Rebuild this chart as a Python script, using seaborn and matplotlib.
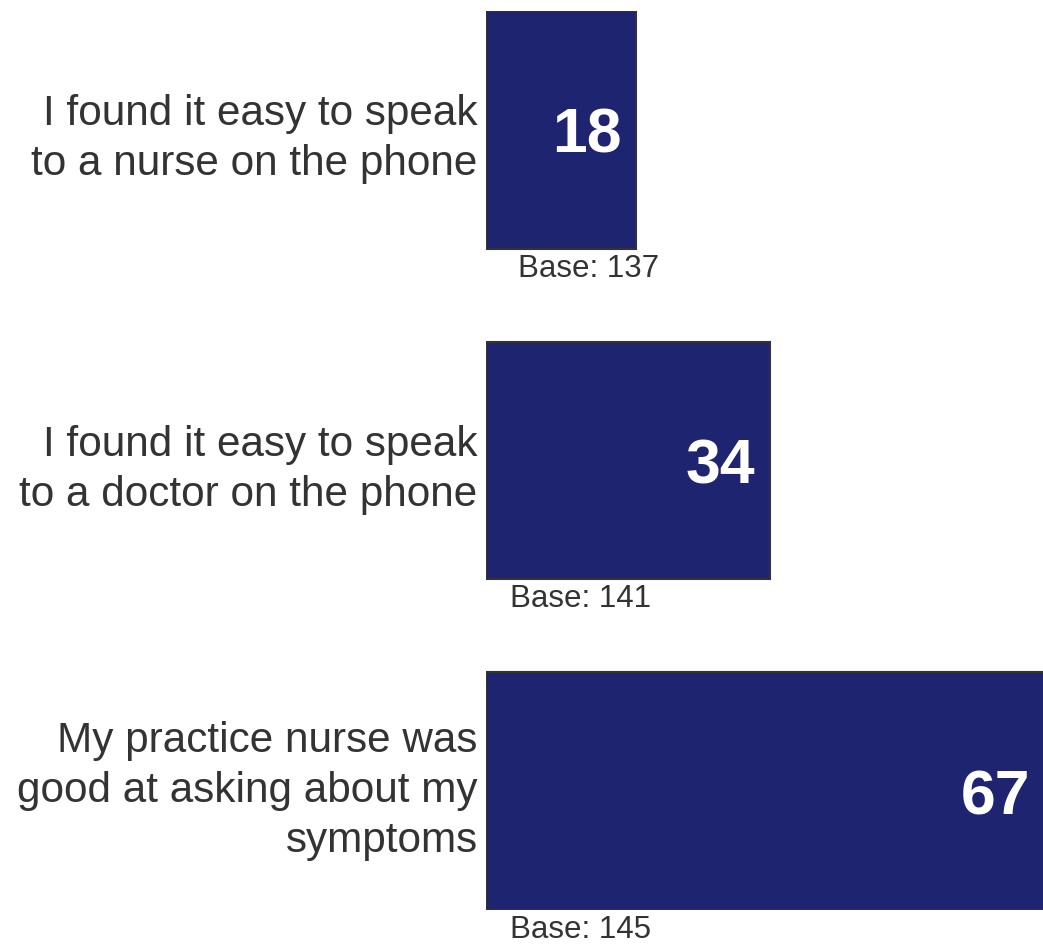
import matplotlib
matplotlib.use("Agg")
import matplotlib.pyplot as plt
import seaborn as sns
import pandas as pd

categories = [
    "I found it easy to speak\nto a nurse on the phone",
    "I found it easy to speak\nto a doctor on the phone",
    "My practice nurse was\ngood at asking about my\nsymptoms",
]
values = [18, 34, 67]
base_labels = ["Base: 137", "Base: 141", "Base: 145"]

sns.set_style("white")
plt.rcParams['font.family'] = ['Liberation Sans', 'DejaVu Sans']

df = pd.DataFrame({"cat": categories, "val": values})

fig = plt.figure(figsize=(10.43, 9.46), dpi=100)
ax = fig.add_axes([486 / 1043, 1 - 910 / 946, 1 - 486 / 1043, 899 / 946])

sns.barplot(data=df, x="val", y="cat", orient="h", color="#1F2470",
            saturation=1, width=0.72, edgecolor="#333333", linewidth=1.5, ax=ax)

ax.set_xlim(0, 66.8)
ax.set_ylim(2.36, -0.36)
ax.set_xlabel("")
ax.set_ylabel("")
ax.set_xticks([])
for s in ax.spines.values():
    s.set_visible(False)
ax.tick_params(axis="y", length=0, pad=6)
for lbl in ax.get_yticklabels():
    lbl.set_fontsize(30.4)
    lbl.set_color("#333333")
    lbl.set_linespacing(1.32)
    lbl.set_ha("right")
    if lbl.get_text().count("\n") >= 2:
        lbl.set_va("center")
    else:
        lbl.set_va("center_baseline")

base_x = [12.3, 11.3, 11.3]
for i, (v, b) in enumerate(zip(values, base_labels)):
    ax.annotate(str(v), xy=(v, i), xytext=(-14, 0), textcoords="offset pixels",
                ha="right", va="center_baseline", color="white", fontsize=45,
                fontweight="bold", annotation_clip=False)
    ax.text(base_x[i], i + 0.36 + 0.014, b, ha="center", va="top",
            fontsize=22.5, color="#333333")

fig.savefig("out.png", dpi=100)
